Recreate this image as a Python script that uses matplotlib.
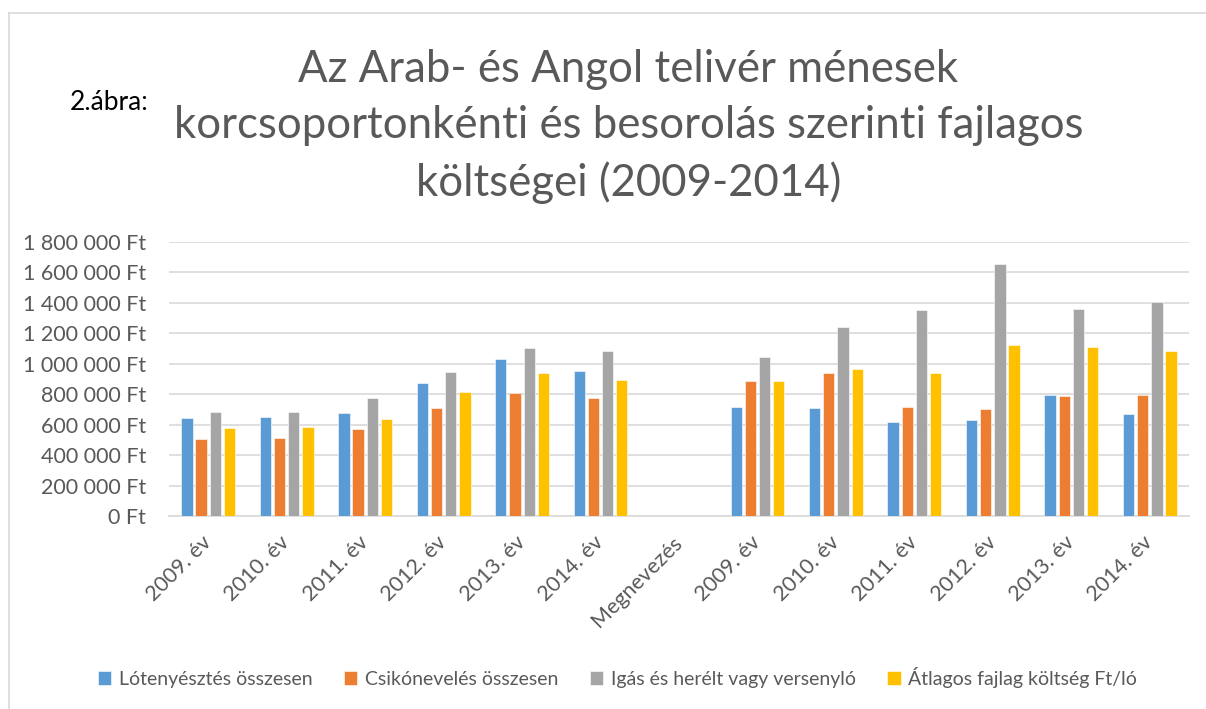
import matplotlib.pyplot as plt
import numpy as np
from matplotlib.lines import Line2D

# ─── DATA ──────────────────────────────────────────────────────────────────
categories = ["2009. év", "2010. év", "2011. év", "2012. év", "2013. év", "2014. év",
              "Megnevezés",
              "2009. év", "2010. év", "2011. év", "2012. év", "2013. év", "2014. év"]

nan = np.nan
lotenyesztes = [644000, 648000, 677000, 874000, 1031000, 953000, nan,
                718000, 712000, 620000, 631000, 795000, 668000]
csikoneveles = [508000, 512000, 572000, 707000, 808000, 777000, nan,
                889000, 942000, 714000, 703000, 790000, 797000]
igas_herelt  = [683000, 683000, 773000, 946000, 1106000, 1084000, nan,
                1047000, 1239000, 1355000, 1653000, 1358000, 1406000]
atlagos      = [576000, 587000, 639000, 812000, 937000, 891000, nan,
                887000, 966000, 937000, 1123000, 1110000, 1082000]

series_names = ["Lótenyésztés összesen", "Csikónevelés összesen",
                "Igás és herélt vagy versenyló", "Átlagos fajlag költség Ft/ló"]
colors = ["#5B9BD5", "#ED7D31", "#A5A5A5", "#FFC000"]
# ────────────────────────────────────────────────────────────────────────────

TXT = "#595959"
GRID = "#D9D9D9"
plt.rcParams['font.family'] = ['Lato', 'DejaVu Sans']

fig = plt.figure(figsize=(12.06, 7.09), dpi=100)
ax = fig.add_axes([169/1206, 1 - 516/709, (1189 - 169)/1206, (516 - 242)/709])

x = np.arange(len(categories))
pitch = 0.181
width = 0.144
all_series = [lotenyesztes, csikoneveles, igas_herelt, atlagos]
for i, (vals, name, c) in enumerate(zip(all_series, series_names, colors)):
    ax.bar(x + (i - 1.5) * pitch, vals, width, color=c, label=name,
           edgecolor="white", linewidth=0.4, zorder=3)

ax.set_xlim(-0.5, len(categories) - 0.5)
ax.set_ylim(0, 1800000)
yt = np.arange(0, 1800001, 200000)
ax.set_yticks(yt)
ax.set_yticklabels([f"{v:,.0f} Ft".replace(",", " ") for v in yt])
ax.set_xticks(x)
ax.set_xticklabels(categories, rotation=45, ha="right", va="center",
                   rotation_mode="anchor")
ax.tick_params(axis="both", length=0, labelsize=15.5, colors=TXT)
ax.tick_params(axis="y", pad=16.5)
ax.tick_params(axis="x", pad=17)

ax.grid(axis="y", color=GRID, linewidth=1.2, zorder=0)
for s in ["top", "right", "left"]:
    ax.spines[s].set_visible(False)
ax.spines["bottom"].set_color(GRID)
ax.spines["bottom"].set_linewidth(1.2)

# Title
fig.text(0.521, 0.822,
         "Az Arab- és Angol telivér ménesek\n"
         "korcsoportonkénti és besorolás szerinti fajlagos\n"
         "költségei (2009-2014)",
         ha="center", va="center", fontsize=31.5, color=TXT, linespacing=1.45)
fig.text(0.058, 0.855, "2.ábra:", ha="left", va="center", fontsize=19, color="black")

# Legend
fig.legend(loc="center", bbox_to_anchor=(0.512, 0.045), ncol=4, frameon=False,
           fontsize=14, labelcolor=TXT, handlelength=0.7, handleheight=0.7,
           handletextpad=0.4, columnspacing=1.6)

# Chart border
fig.add_artist(Line2D([8.5/1206, 1], [1 - 12.5/709, 1 - 12.5/709],
                      transform=fig.transFigure, color=GRID, linewidth=1.2))
fig.add_artist(Line2D([8.5/1206, 8.5/1206], [0, 1 - 12.5/709],
                      transform=fig.transFigure, color=GRID, linewidth=1.2))

fig.savefig("out.png", dpi=100)
